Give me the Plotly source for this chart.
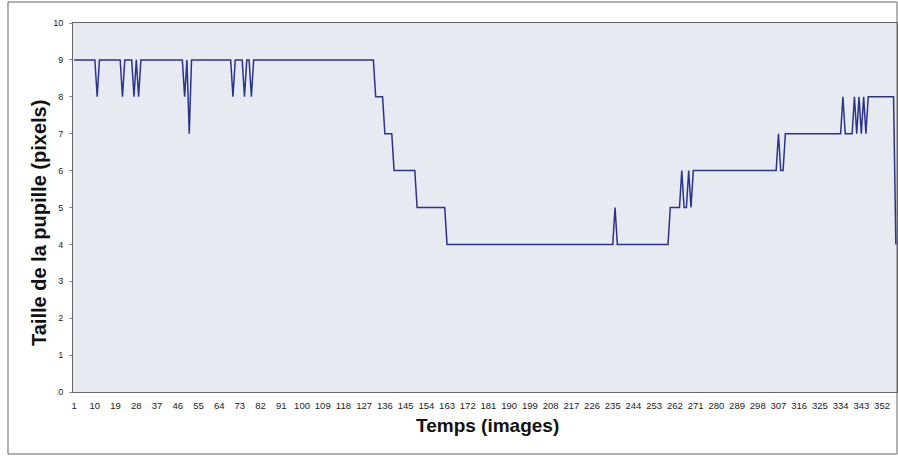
import plotly.graph_objects as go

# Frame index (1..358) and measured pupil size in pixels
n_frames = 358
frames = list(range(1, n_frames + 1))

# Piecewise description of the pupil size: (first frame, last frame, value)
segments = [
    (1, 131, 9),
    (132, 135, 8),
    (136, 139, 7),
    (140, 149, 6),
    (150, 162, 5),
    (163, 259, 4),
    (260, 269, 5),
    (270, 306, 6),
    (307, 339, 7),
    (340, 357, 8),
    (358, 358, 4),
]

# Isolated frames that deviate from their plateau
blips = {
    11: 8, 22: 8, 27: 8, 29: 8, 49: 8, 51: 7,
    70: 8, 75: 8, 78: 8,
    236: 5,
    265: 6, 268: 6,
    308: 6, 309: 6,
    335: 8,
    341: 7, 343: 7, 345: 7,
}

pupil = []
for f in frames:
    for a, b, v in segments:
        if a <= f <= b:
            val = v
            break
    pupil.append(blips.get(f, val))

x_ticks = list(range(1, 353, 9))
y_ticks = list(range(0, 11))

fig = go.Figure()
fig.add_trace(go.Scatter(
    x=frames, y=pupil, mode="lines",
    line=dict(color="#2b3488", width=1.5),
    showlegend=False, hoverinfo="x+y",
))

W, H = 898, 456
L, R, T, B = 73, 1, 23, 64
pw, ph = W - L - R, H - T - B

def px_x(p):
    return (p - L) / pw

def px_y(p):
    return (H - B - p) / ph

fig.update_layout(
    width=W, height=H,
    margin=dict(l=L, r=R, t=T, b=B, pad=0),
    paper_bgcolor="white",
    plot_bgcolor="#e8eaf2",
    font=dict(family="Liberation Sans, Arial, sans-serif", color="#222"),
    xaxis=dict(
        range=[0.5, n_frames + 0.5],
        tickmode="array", tickvals=x_ticks, ticktext=[str(v) for v in x_ticks],
        tickfont=dict(size=9.5, color="#222"),
        ticks="", ticklabelstandoff=5,
        showgrid=False, zeroline=False,
        showline=True, linecolor="#666", linewidth=1, mirror=True,
        fixedrange=True,
    ),
    yaxis=dict(
        range=[0, 10],
        tickmode="array", tickvals=y_ticks,
        tickfont=dict(size=9, color="#222"),
        ticks="outside", ticklen=3, tickcolor="#888",
        ticklabelstandoff=4,
        showgrid=False, zeroline=False,
        showline=True, linecolor="#666", linewidth=1, mirror=True,
        fixedrange=True,
    ),
    annotations=[
        dict(
            text="<b>Temps (images)</b>", xref="paper", yref="paper",
            x=px_x(487), y=px_y(425), xanchor="center", yanchor="middle",
            showarrow=False, font=dict(size=19, color="#111"),
        ),
        dict(
            text="<b>Taille de la pupille (pixels)</b>", xref="paper", yref="paper",
            x=px_x(39), y=px_y(223), xanchor="center", yanchor="middle",
            textangle=-90, showarrow=False, font=dict(size=20, color="#111"),
        ),
    ],
    shapes=[
        dict(
            type="rect", xref="paper", yref="paper",
            x0=px_x(8), x1=px_x(897), y0=px_y(454), y1=px_y(2),
            line=dict(color="#666", width=1), fillcolor="rgba(0,0,0,0)",
            layer="below",
        ),
    ],
)

fig.write_html("out.html")
